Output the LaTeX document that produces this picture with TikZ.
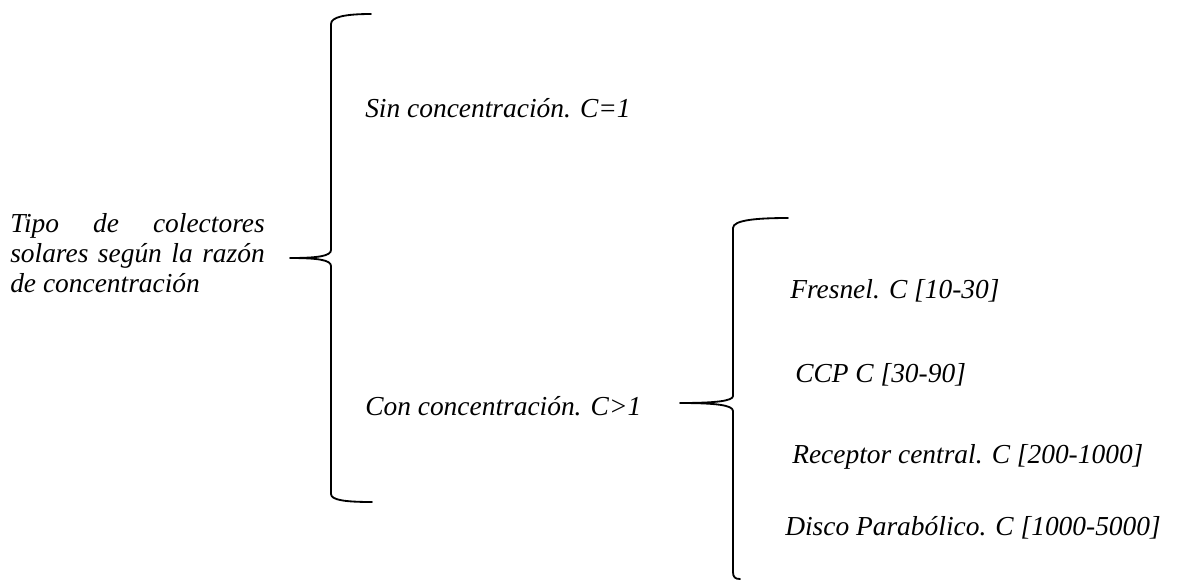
\documentclass[tikz,border=0pt]{standalone}
\usepackage{fontspec}
\setmainfont{Liberation Serif}
\usetikzlibrary{positioning}
\hyphenpenalty=10000
\exhyphenpenalty=10000
\lefthyphenmin=64
\righthyphenmin=64
\tolerance=9999

\tikzset{
  texto/.style={font=\fontsize{19.5}{21.3}\selectfont\itshape, inner sep=0pt, anchor=base west},
  llave/.style={line width=1.3pt, line join=round, line cap=round}
}

\begin{document}
\begin{tikzpicture}[x=0.025cm, y=-0.025cm]
        \useasboundingbox (0,0) rectangle (1178,581);

        % texto de la izquierda
        \node[texto, text width=6.36cm, align=justify, anchor=north west] (tipo) at (10,213)
          {Tipo de colectores solares según la razón de concentración};

        % llave grande
        \draw[llave] (371,14) .. controls (345,14) and (331,17) .. (331,24) -- (331,250)
          .. controls (331,256) and (318,258) .. (290,258)
          .. controls (318,258) and (331,260) .. (331,266) -- (331,494)
          .. controls (331,500) and (345,502) .. (372,502);

        % primer nivel
        \node[texto] (sin) at (365,117) {Sin concentración. C=1};
        \node[texto] (con) at (365,415) {Con concentración. C>1};

        % llave pequeña
        \draw[llave] (788,218) .. controls (757,218) and (733,220) .. (733,228) -- (733,396)
          .. controls (733,401) and (715,403) .. (680,403)
          .. controls (715,403) and (733,405) .. (733,411) -- (733,572)
          .. controls (733,577) and (735,579) .. (740,579);

        % segundo nivel
        \node[texto] (fresnel)  at (790,298) {Fresnel. C [10-30]};
        \node[texto] (ccp)      at (795,382) {CCP C [30-90]};
        \node[texto] (receptor) at (792,463) {Receptor central. C [200-1000]};
        \node[texto] (disco)    at (785,535) {Disco Parabólico. C [1000-5000]};
    \end{tikzpicture}
\end{document}
